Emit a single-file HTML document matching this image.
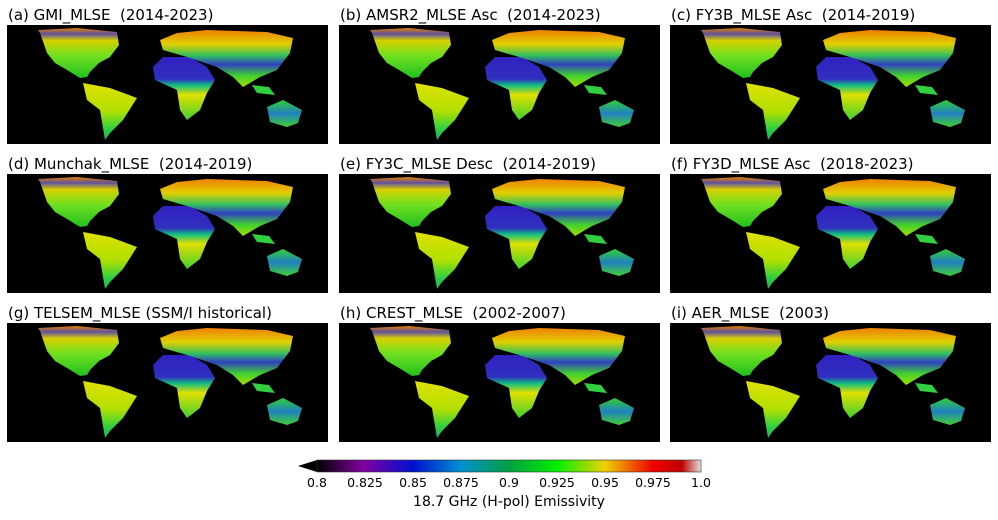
<!DOCTYPE html>
<html><head><meta charset="utf-8"><style>
html,body{margin:0;padding:0;background:#fff;}
body{width:998px;height:516px;overflow:hidden;font-family:"DejaVu Sans","Liberation Sans",sans-serif;}
</style></head><body>
<svg width="998" height="516" viewBox="0 0 998 516" xmlns="http://www.w3.org/2000/svg">
<defs>
<linearGradient id="gNA" x1="0" y1="0" x2="0" y2="1">
<stop offset="0" stop-color="#e08000"/><stop offset="0.12" stop-color="#6050a0"/><stop offset="0.25" stop-color="#d8d000"/><stop offset="0.55" stop-color="#70e020"/><stop offset="1" stop-color="#20c020"/></linearGradient>
<linearGradient id="gSA" x1="0" y1="0" x2="0" y2="1">
<stop offset="0" stop-color="#e0e000"/><stop offset="0.5" stop-color="#b0e000"/><stop offset="0.8" stop-color="#30d040"/><stop offset="1" stop-color="#20b060"/></linearGradient>
<linearGradient id="gAF" x1="0" y1="0" x2="0" y2="1">
<stop offset="0" stop-color="#3020c0"/><stop offset="0.35" stop-color="#3030c0"/><stop offset="0.45" stop-color="#10c080"/><stop offset="0.6" stop-color="#e0e000"/><stop offset="1" stop-color="#40d030"/></linearGradient>
<linearGradient id="gEU" x1="0" y1="0" x2="0" y2="1">
<stop offset="0" stop-color="#f08000"/><stop offset="0.25" stop-color="#e0d000"/><stop offset="0.45" stop-color="#30c060"/><stop offset="0.6" stop-color="#3040c0"/><stop offset="0.8" stop-color="#40d030"/><stop offset="1" stop-color="#a0e000"/></linearGradient>
<linearGradient id="gAU" x1="0" y1="0" x2="0" y2="1">
<stop offset="0" stop-color="#30d030"/><stop offset="0.5" stop-color="#2080c0"/><stop offset="1" stop-color="#40d030"/></linearGradient>
<linearGradient id="cb" x1="0" y1="0" x2="1" y2="0">
<stop offset="0" stop-color="#000"/><stop offset="0.12" stop-color="#8000a0"/><stop offset="0.25" stop-color="#0010d0"/><stop offset="0.375" stop-color="#0090d0"/><stop offset="0.5" stop-color="#00a040"/><stop offset="0.625" stop-color="#00f000"/><stop offset="0.75" stop-color="#f0d000"/><stop offset="0.875" stop-color="#f00000"/><stop offset="0.95" stop-color="#c00000"/><stop offset="1" stop-color="#e0e0e0"/></linearGradient>
<g id="map">
<rect x="0" y="0" width="321" height="119" fill="#000"/>
<polygon fill="url(#gNA)" points="31,5 70,3 110,7 112,20 103,32 92,38 83,47 80,52 73,53 60,45 48,38 40,28 33,8"/>
<polygon fill="url(#gSA)" points="76,58 103,63 130,73 116,95 103,108 98,115 93,85 80,75"/>
<polygon fill="url(#gAF)" points="146,42 156,32 183,32 200,42 208,55 200,68 193,85 180,95 173,85 170,65 148,55"/>
<polygon fill="url(#gEU)" points="153,15 170,8 200,5 260,7 286,13 283,28 270,45 253,52 236,62 226,52 210,42 180,32 156,25"/>
<polygon fill="#30d040" points="245,60 262,62 268,70 250,68"/>
<polygon fill="url(#gAU)" points="260,82 276,75 295,85 291,98 280,102 263,97"/>
</g>
</defs>
<g font-size="15" fill="#000">
<text x="8" y="20">(a) GMI_MLSE&#160;&#160;(2014-2023)</text>
<text x="340" y="20">(b) AMSR2_MLSE Asc&#160;&#160;(2014-2023)</text>
<text x="671" y="20">(c) FY3B_MLSE Asc&#160;&#160;(2014-2019)</text>
<text x="8" y="169">(d) Munchak_MLSE&#160;&#160;(2014-2019)</text>
<text x="340" y="169">(e) FY3C_MLSE Desc&#160;&#160;(2014-2019)</text>
<text x="671" y="169">(f) FY3D_MLSE Asc&#160;&#160;(2018-2023)</text>
<text x="8" y="318">(g) TELSEM_MLSE (SSM/I historical)</text>
<text x="340" y="318">(h) CREST_MLSE&#160;&#160;(2002-2007)</text>
<text x="671" y="318">(i) AER_MLSE&#160;&#160;(2003)</text>
</g>
<use href="#map" x="7" y="25"/><use href="#map" x="339" y="25"/><use href="#map" x="670" y="25"/>
<use href="#map" x="7" y="174"/><use href="#map" x="339" y="174"/><use href="#map" x="670" y="174"/>
<use href="#map" x="7" y="323"/><use href="#map" x="339" y="323"/><use href="#map" x="670" y="323"/>
<polygon points="298,466 317,460 317,472" fill="#000"/>
<rect x="317" y="460" width="384" height="12" fill="url(#cb)" stroke="#333" stroke-width="0.6"/>
<g font-size="12.5" fill="#000" text-anchor="middle">
<text x="317" y="487">0.8</text><text x="365" y="487">0.825</text><text x="413" y="487">0.85</text>
<text x="461" y="487">0.875</text><text x="509" y="487">0.9</text><text x="557" y="487">0.925</text>
<text x="605" y="487">0.95</text><text x="653" y="487">0.975</text><text x="701" y="487">1.0</text>
<text x="509" y="506" font-size="14">18.7 GHz (H-pol) Emissivity</text>
</g>
</svg>
</body></html>
